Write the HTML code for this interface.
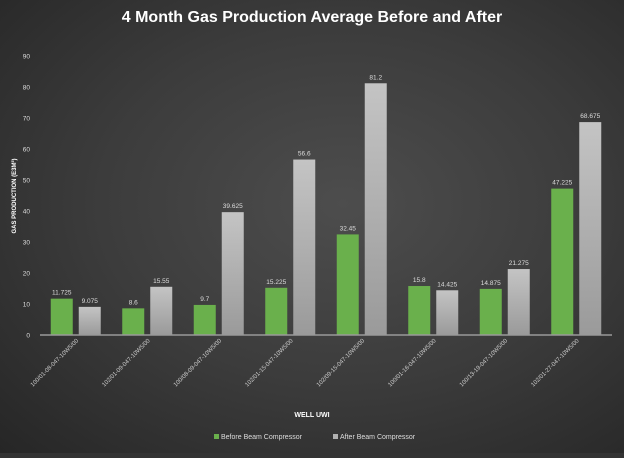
<!DOCTYPE html>
<html><head><meta charset="utf-8"><style>
body{margin:0;width:624px;height:453px;overflow:hidden;background:#333;font-family:"Liberation Sans",sans-serif}
#c{position:absolute;left:0;top:0;width:624px;height:453px;background:radial-gradient(ellipse at 55% 45%,#4d4d4d 0%,#3c3c3c 50%,#262626 100%)}
</style></head><body>
<div id="c">
<svg id="s" width="624" height="453">
<defs>
<linearGradient id="gg" x1="0" y1="0" x2="0" y2="1"><stop offset="0" stop-color="#c4c4c4"/><stop offset="1" stop-color="#9a9a9a"/></linearGradient>
</defs>
<text x="312" y="22" text-anchor="middle" fill="#fff" font-size="16" font-weight="bold">4 Month Gas Production Average Before and After</text>
<text transform="translate(16,196) rotate(-90)" text-anchor="middle" fill="#fff" font-size="6" font-weight="bold">GAS PRODUCTION (E3M³)</text>
<text x="312" y="417" text-anchor="middle" fill="#fff" font-size="7" font-weight="bold">WELL UWI</text>
<g>
<rect x="214" y="434" width="5" height="5" fill="#6ab04c"/>
<text x="221" y="439" fill="#ddd" font-size="7">Before Beam Compressor</text>
<rect x="333" y="434" width="5" height="5" fill="#b0b0b0"/>
<text x="340" y="439" fill="#ddd" font-size="7">After Beam Compressor</text>
</g>
<g id="plot"></g>
</svg></div>
<script>
const categories=["100/01-08-047-10W5/00","102/01-09-047-10W5/00","100/08-09-047-10W5/00","102/01-15-047-10W5/00","102/09-15-047-10W5/00","100/01-16-047-10W5/00","100/13-19-047-10W5/00","102/01-27-047-10W5/00"];
const beforeVals=[11.725,8.6,9.7,15.225,32.45,15.8,14.875,47.225];
const afterVals=[9.075,15.55,39.625,56.6,81.2,14.425,21.275,68.675];
const yTicks=[0,10,20,30,40,50,60,70,80,90];
const NS="http://www.w3.org/2000/svg";
const g=document.getElementById('plot');
const x0=40,gw=71.5,y0=335,yTop=56,yMax=90;
function y(v){return y0-(v/yMax)*(y0-yTop);}
function xc(i){return x0+gw*i+gw/2;}
function mk(t,a){const e=document.createElementNS(NS,t);for(const k in a)e.setAttribute(k,a[k]);g.appendChild(e);return e;}
yTicks.forEach(v=>{const t=mk('text',{x:30,y:y(v)+2.5,'text-anchor':'end',fill:'#ddd','font-size':6.5});t.textContent=v;

});
categories.forEach((c,i)=>{
 const cx=xc(i);
 const b=mk('rect',{x:cx-25,y:y(beforeVals[i]),width:22,height:y0-y(beforeVals[i]),fill:'#6ab04c'});
 
 
 const a=mk('rect',{x:cx+3,y:y(afterVals[i]),width:22,height:y0-y(afterVals[i]),fill:'url(#gg)'});
 
 
 const bl=mk('text',{x:cx-14,y:y(beforeVals[i])-4,'text-anchor':'middle',fill:'#ddd','font-size':6.5});bl.textContent=beforeVals[i];
 
 
 const al=mk('text',{x:cx+14,y:y(afterVals[i])-4,'text-anchor':'middle',fill:'#ddd','font-size':6.5});al.textContent=afterVals[i];
 
 
 const cl=mk('text',{transform:`translate(${cx+3},341) rotate(-45)`,'text-anchor':'end',fill:'#ccc','font-size':6});cl.textContent=c;
 
 
});
const ax=mk('line',{x1:x0,x2:x0+gw*8,y1:y0,y2:y0,stroke:'#999','stroke-width':1.5});


</script>
</body></html>
